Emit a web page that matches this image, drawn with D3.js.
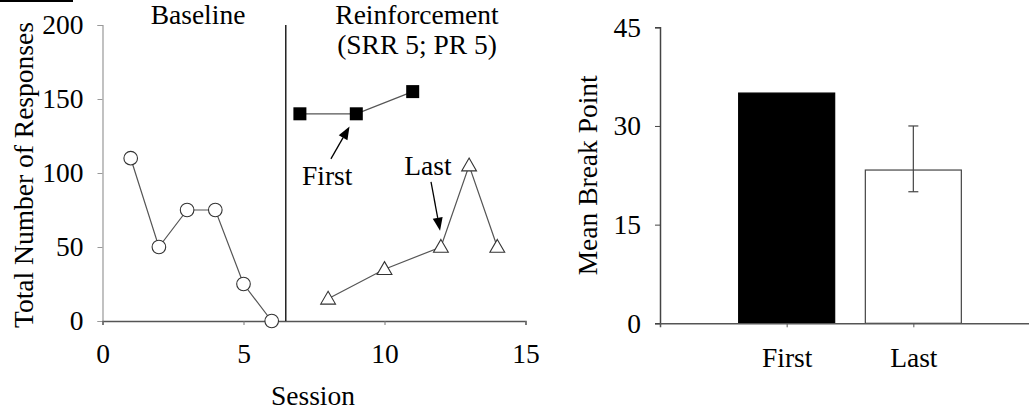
<!DOCTYPE html>
<html>
<head>
<meta charset="utf-8">
<script src="https://cdn.jsdelivr.net/npm/d3@7"></script>
<style>
  html, body { margin: 0; padding: 0; background: #fff; }
  svg { display: block; }
  text { font-family: "Liberation Serif", "Times New Roman", serif; fill: #000; }
</style>
</head>
<body>
<svg id="chart" width="1029" height="411"></svg>
<script>
// Session-by-session responding
const baselineSessions = [1, 2, 3, 4, 5, 6];
const baselineResponses = [110, 50, 75, 75, 25, 0];
const firstSessions = [7, 9, 11];
const firstResponses = [140, 140, 155];
const lastSessions = [8, 10, 12, 13, 14];
const lastResponses = [15, 35, 50, 105, 50];
const phaseChange = 6.5;
const sessionTicks = [0, 5, 10, 15];
const responseTicks = [0, 50, 100, 150, 200];

// Mean break point summary
const conditions = ["First", "Last"];
const meanBreakPoint = [35, 23.3];
const errorLow = [null, 20];
const errorHigh = [null, 30];
const breakPointTicks = [0, 15, 30, 45];

const svg = d3.select("#chart");
const FONT = 27.5;

// ---------- Left panel: responses across sessions ----------
const x = d3.scaleLinear().domain([0, 15]).range([102.5, 525.5]);
const y = d3.scaleLinear().domain([0, 200]).range([321, 25]);

const left = svg.append("g");

// short rule in the top-left corner
left.append("line").attr("x1", 0).attr("x2", 73).attr("y1", 1).attr("y2", 1)
  .attr("stroke", "#000").attr("stroke-width", 2);

const yAx = left.append("g").attr("transform", `translate(${x(0)},0)`)
  .call(d3.axisLeft(y).tickValues(responseTicks).tickSize(5).tickPadding(14));
yAx.select(".domain").attr("stroke", "#999").attr("stroke-width", 1.2);
yAx.selectAll(".tick line").attr("stroke", "#999");
yAx.selectAll("text").style("font-size", FONT + "px").style("text-anchor", "end");

const xAx = left.append("g").attr("transform", `translate(0,${y(0)})`)
  .call(d3.axisBottom(x).tickValues(sessionTicks).tickSize(4).tickPadding(18));
xAx.select(".domain").attr("stroke", "#555").attr("stroke-width", 1.5);
xAx.selectAll(".tick line").attr("stroke", "#777");
xAx.selectAll("text").style("font-size", FONT + "px").style("text-anchor", "middle");

// phase change line
left.append("line")
  .attr("x1", x(phaseChange)).attr("x2", x(phaseChange))
  .attr("y1", y(200)).attr("y2", y(0))
  .attr("stroke", "#000").attr("stroke-width", 1.3);

const line = d3.line().x(d => x(d[0])).y(d => y(d[1]));
const zip = (a, b) => a.map((v, i) => [v, b[i]]);

const baseData = zip(baselineSessions, baselineResponses);
const firstData = zip(firstSessions, firstResponses);
const lastData = zip(lastSessions, lastResponses);

[baseData, firstData, lastData].forEach(d => {
  left.append("path").attr("d", line(d))
    .attr("fill", "none").attr("stroke", "#555").attr("stroke-width", 1.2);
});

left.selectAll("circle.base").data(baseData).join("circle")
  .attr("class", "base")
  .attr("cx", d => x(d[0])).attr("cy", d => y(d[1])).attr("r", 6.8)
  .attr("fill", "#fff").attr("stroke", "#333").attr("stroke-width", 1.1);

left.selectAll("rect.first").data(firstData).join("rect")
  .attr("class", "first")
  .attr("x", d => x(d[0]) - 6.5).attr("y", d => y(d[1]) - 6.5)
  .attr("width", 13).attr("height", 13).attr("fill", "#000");

const tri = d3.symbol().type(d3.symbolTriangle).size(95);
left.selectAll("path.last").data(lastData).join("path")
  .attr("class", "last")
  .attr("transform", d => `translate(${x(d[0])},${y(d[1]) + 1})`)
  .attr("d", tri)
  .attr("fill", "#fff").attr("stroke", "#333").attr("stroke-width", 1.1);

// annotations
function arrow(x1, y1, x2, y2) {
  const ang = Math.atan2(y2 - y1, x2 - x1);
  const L = 13, W = 5;
  const bx = x2 - L * Math.cos(ang), by = y2 - L * Math.sin(ang);
  left.append("line").attr("x1", x1).attr("y1", y1).attr("x2", bx).attr("y2", by)
    .attr("stroke", "#000").attr("stroke-width", 1.3);
  const px = -Math.sin(ang) * W, py = Math.cos(ang) * W;
  left.append("path")
    .attr("d", `M${x2},${y2}L${bx + px},${by + py}L${bx - px},${by - py}Z`)
    .attr("fill", "#000");
}
arrow(x(8.1), y(109.5), x(8.76), y(131.5));
arrow(x(11.65), y(94), x(11.97), y(61));

left.append("text").attr("x", x(7.97)).attr("y", y(92)).attr("text-anchor", "middle")
  .style("font-size", FONT + "px").text("First");
left.append("text").attr("x", x(11.54)).attr("y", y(98.6)).attr("text-anchor", "middle")
  .style("font-size", FONT + "px").text("Last");

// phase titles
left.append("text").attr("x", 198).attr("y", 24).attr("text-anchor", "middle")
  .style("font-size", FONT + "px").text("Baseline");
left.append("text").attr("x", 417).attr("y", 24).attr("text-anchor", "middle")
  .style("font-size", FONT + "px").text("Reinforcement");
left.append("text").attr("x", 417).attr("y", 54).attr("text-anchor", "middle")
  .style("font-size", FONT + "px").text("(SRR 5; PR 5)");

// axis titles
left.append("text").attr("x", 313).attr("y", 405).attr("text-anchor", "middle")
  .style("font-size", FONT + "px").text("Session");
left.append("text")
  .attr("transform", `translate(33,${(y(0) + y(200)) / 2 + 2}) rotate(-90)`)
  .attr("text-anchor", "middle")
  .style("font-size", FONT + "px").text("Total Number of Responses");

// ---------- Right panel: mean break point ----------
const xb = d3.scalePoint().domain(conditions).range([660, 1040]).padding(1);
const yb = d3.scaleLinear().domain([0, 45]).range([323.3, 27.3]);
const right = svg.append("g");
const barW = 96;

const bars = conditions.map((c, i) => ({ c, v: meanBreakPoint[i], lo: errorLow[i], hi: errorHigh[i] }));

right.selectAll("rect.bar").data(bars).join("rect")
  .attr("class", "bar")
  .attr("x", d => xb(d.c) - barW / 2).attr("y", d => yb(d.v))
  .attr("width", barW).attr("height", d => yb(0) - yb(d.v))
  .attr("fill", (d, i) => i === 0 ? "#000" : "#fff")
  .attr("stroke", (d, i) => i === 0 ? "#000" : "#444").attr("stroke-width", 1.2);

const err = bars.filter(d => d.lo != null);
err.forEach(d => {
  const cx = xb(d.c);
  right.append("line").attr("x1", cx).attr("x2", cx).attr("y1", yb(d.hi)).attr("y2", yb(d.lo))
    .attr("stroke", "#444").attr("stroke-width", 1.2);
  [d.hi, d.lo].forEach(v => right.append("line")
    .attr("x1", cx - 5).attr("x2", cx + 5).attr("y1", yb(v)).attr("y2", yb(v))
    .attr("stroke", "#444").attr("stroke-width", 1.2));
});

const ybAx = right.append("g").attr("transform", "translate(660,0)")
  .call(d3.axisLeft(yb).tickValues(breakPointTicks).tickSize(5).tickPadding(14));
ybAx.select(".domain").attr("stroke", "#444").attr("stroke-width", 1.5);
ybAx.selectAll(".tick line").attr("stroke", "#444");
ybAx.selectAll("text").style("font-size", FONT + "px").style("text-anchor", "end");

const xbAx = right.append("g").attr("transform", `translate(0,${yb(0)})`)
  .call(d3.axisBottom(xb).tickSize(4).tickPadding(20));
xbAx.select(".domain").attr("stroke", "#555").attr("stroke-width", 1.5);
xbAx.selectAll(".tick line").attr("stroke", "#555");
xbAx.selectAll("text").style("font-size", FONT + "px").style("text-anchor", "middle");

right.append("text")
  .attr("transform", `translate(597,${(yb(0) + yb(45)) / 2}) rotate(-90)`)
  .attr("text-anchor", "middle")
  .style("font-size", FONT + "px").text("Mean Break Point");
</script>
</body>
</html>
